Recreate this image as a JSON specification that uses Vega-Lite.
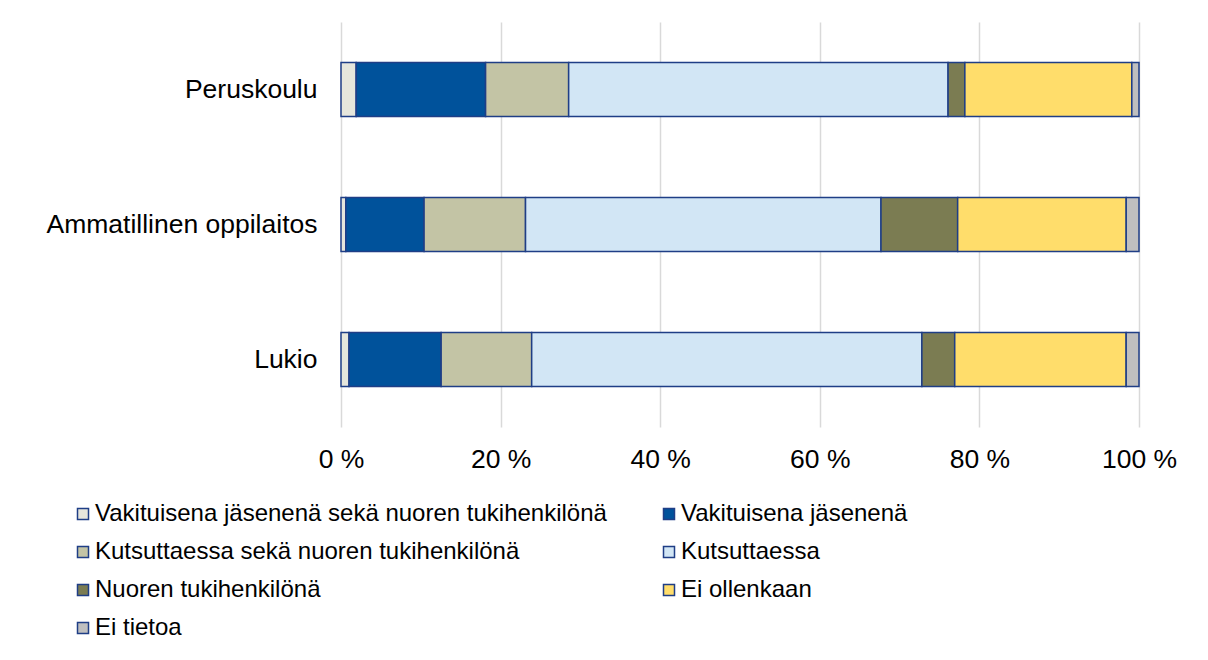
{
  "$schema": "https://vega.github.io/schema/vega-lite/v6.json",
  "width": 798,
  "height": 405,
  "autosize": {"type": "none"},
  "padding": {"left": 341, "top": 22, "right": 69, "bottom": 233},
  "background": "white",
  "config": {
    "font": "Liberation Sans",
    "view": {"stroke": null}
  },
  "data": {
    "values": [
      {"koulu": "Peruskoulu", "i": 1, "tapa": "Vakituisena jäsenenä sekä nuoren tukihenkilönä", "osuus": 1.9},
      {"koulu": "Peruskoulu", "i": 2, "tapa": "Vakituisena jäsenenä", "osuus": 16.2},
      {"koulu": "Peruskoulu", "i": 3, "tapa": "Kutsuttaessa sekä nuoren tukihenkilönä", "osuus": 10.4},
      {"koulu": "Peruskoulu", "i": 4, "tapa": "Kutsuttaessa", "osuus": 47.5},
      {"koulu": "Peruskoulu", "i": 5, "tapa": "Nuoren tukihenkilönä", "osuus": 2.1},
      {"koulu": "Peruskoulu", "i": 6, "tapa": "Ei ollenkaan", "osuus": 20.9},
      {"koulu": "Peruskoulu", "i": 7, "tapa": "Ei tietoa", "osuus": 0.9},
      {"koulu": "Ammatillinen oppilaitos", "i": 1, "tapa": "Vakituisena jäsenenä sekä nuoren tukihenkilönä", "osuus": 0.6},
      {"koulu": "Ammatillinen oppilaitos", "i": 2, "tapa": "Vakituisena jäsenenä", "osuus": 9.8},
      {"koulu": "Ammatillinen oppilaitos", "i": 3, "tapa": "Kutsuttaessa sekä nuoren tukihenkilönä", "osuus": 12.7},
      {"koulu": "Ammatillinen oppilaitos", "i": 4, "tapa": "Kutsuttaessa", "osuus": 44.5},
      {"koulu": "Ammatillinen oppilaitos", "i": 5, "tapa": "Nuoren tukihenkilönä", "osuus": 9.6},
      {"koulu": "Ammatillinen oppilaitos", "i": 6, "tapa": "Ei ollenkaan", "osuus": 21.1},
      {"koulu": "Ammatillinen oppilaitos", "i": 7, "tapa": "Ei tietoa", "osuus": 1.6},
      {"koulu": "Lukio", "i": 1, "tapa": "Vakituisena jäsenenä sekä nuoren tukihenkilönä", "osuus": 1.0},
      {"koulu": "Lukio", "i": 2, "tapa": "Vakituisena jäsenenä", "osuus": 11.5},
      {"koulu": "Lukio", "i": 3, "tapa": "Kutsuttaessa sekä nuoren tukihenkilönä", "osuus": 11.3},
      {"koulu": "Lukio", "i": 4, "tapa": "Kutsuttaessa", "osuus": 48.7},
      {"koulu": "Lukio", "i": 5, "tapa": "Nuoren tukihenkilönä", "osuus": 4.1},
      {"koulu": "Lukio", "i": 6, "tapa": "Ei ollenkaan", "osuus": 21.4},
      {"koulu": "Lukio", "i": 7, "tapa": "Ei tietoa", "osuus": 1.6}
    ]
  },
  "mark": {"type": "bar", "stroke": "#1F3E86", "strokeWidth": 1.5, "strokeJoin": "miter"},
  "encoding": {
    "y": {
      "field": "koulu",
      "type": "nominal",
      "sort": ["Peruskoulu", "Ammatillinen oppilaitos", "Lukio"],
      "scale": {"paddingInner": 0.6, "paddingOuter": 0.3},
      "axis": {
        "title": null,
        "domain": false,
        "ticks": false,
        "labelFontSize": 26.5,
        "labelColor": "#000000",
        "labelPadding": 24,
        "labelLimit": 400
      }
    },
    "x": {
      "field": "osuus",
      "type": "quantitative",
      "stack": "normalize",
      "scale": {"domain": [0, 1], "nice": false},
      "axis": {
        "title": null,
        "values": [0, 0.2, 0.4, 0.6, 0.8, 1],
        "labelExpr": "format(datum.value * 100, 'd') + ' %'",
        "domain": false,
        "ticks": false,
        "grid": true,
        "gridColor": "#D9D9D9",
        "gridWidth": 1.5,
        "labelFontSize": 26.5,
        "labelColor": "#000000",
        "labelPadding": 19,
        "labelFlush": false
      }
    },
    "order": {"field": "i", "type": "quantitative", "sort": "ascending"},
    "color": {
      "field": "tapa",
      "type": "nominal",
      "sort": ["Vakituisena jäsenenä sekä nuoren tukihenkilönä", "Vakituisena jäsenenä", "Kutsuttaessa sekä nuoren tukihenkilönä", "Kutsuttaessa", "Nuoren tukihenkilönä", "Ei ollenkaan", "Ei tietoa"],
      "scale": {
        "domain": ["Vakituisena jäsenenä sekä nuoren tukihenkilönä", "Vakituisena jäsenenä", "Kutsuttaessa sekä nuoren tukihenkilönä", "Kutsuttaessa", "Nuoren tukihenkilönä", "Ei ollenkaan", "Ei tietoa"],
        "range": ["#E6E6DC", "#00529B", "#C3C4A5", "#D2E6F5", "#7B7C52", "#FFDD6B", "#BFBFBF"]
      },
      "legend": {
        "title": null,
        "orient": "none",
        "legendX": -270,
        "legendY": 480,
        "columns": 2,
        "direction": "horizontal",
        "symbolType": "square",
        "symbolSize": 121,
        "symbolStrokeColor": "#1F3E86",
        "symbolStrokeWidth": 1.5,
        "symbolOpacity": 1,
        "labelFontSize": 24,
        "labelColor": "#000000",
        "labelOffset": 0,
        "labelLimit": 700,
        "rowPadding": 14,
        "columnPadding": 50
      }
    }
  }
}
